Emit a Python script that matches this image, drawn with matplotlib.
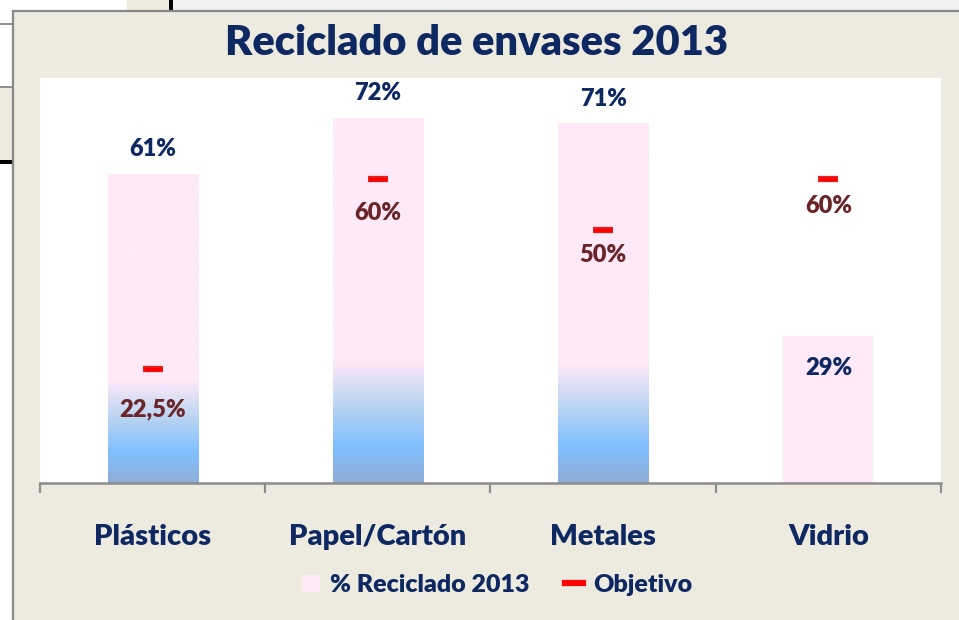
import matplotlib.pyplot as plt
import numpy as np
from matplotlib.colors import LinearSegmentedColormap
from matplotlib.patches import Rectangle, Patch
from matplotlib.lines import Line2D

categorias = ['Plásticos', 'Papel/Cartón', 'Metales', 'Vidrio']
reciclado = [61, 72, 71, 29]
objetivo = [22.5, 60, 50, 60]
con_degradado = [True, True, True, False]

NAVY = '#0E2862'
GRANATE = '#6A2529'
ROSA = '#FDE9F8'
BEIGE = '#EDEBE0'
PESO = 'heavy'
W, H = 959, 620

plt.rcParams['font.family'] = ['Lato', 'DejaVu Sans']
plt.rcParams['font.weight'] = 'bold'

fig = plt.figure(figsize=(W / 100, H / 100), dpi=100, facecolor='white')


def caja(x, y, w, h, **kw):
    # rectangulo en pixeles desde la esquina superior izquierda
    r = Rectangle((x / W, 1 - (y + h) / H), w / W, h / H,
                  transform=fig.transFigure, zorder=-5, **kw)
    fig.add_artist(r)
    return r


# restos de la captura alrededor del grafico
caja(173, 0, W - 173, 11, facecolor='#F0F2F2', edgecolor='none')
caja(127, 0, 42, 11, facecolor=BEIGE, edgecolor='none')
caja(169, 0, 4, 11, facecolor='black', edgecolor='none')
caja(0, 23, 13, 1.5, facecolor='#909090', edgecolor='none')
caja(0, 87, 13, 73, facecolor=BEIGE, edgecolor='none')
caja(0, 86, 13, 1.5, facecolor='#909090', edgecolor='none')
caja(0, 160, 13, 3.5, facecolor='black', edgecolor='none')
# panel del grafico
caja(13, 11, W - 13 + 5, H, facecolor=BEIGE, edgecolor='#888888', linewidth=1.6)

ax = fig.add_axes([40 / W, 1 - 483 / H, (941 - 40) / W, (483 - 78) / H])
ax.set_zorder(2)
ax.set_facecolor('white')
ax.set_xlim(-0.5, 3.5)
ax.set_ylim(0, 80)
for s in ['top', 'left', 'right']:
    ax.spines[s].set_visible(False)
ax.spines['bottom'].set_color('#8C8C8C')
ax.spines['bottom'].set_linewidth(1.8)
ax.set_yticks([])
ax.set_xticks(np.arange(-0.5, 4, 1))
ax.set_xticklabels([])
ax.tick_params(axis='x', direction='out', length=7.5, width=1.6, color='#8C8C8C')

ancho = 0.40
degradado = LinearSegmentedColormap.from_list('deg', [
    (0.0, '#90AED6'),
    (0.10, '#80BFFF'),
    (0.20, '#B4D2F2'),
    (0.33, ROSA),
    (1.0, ROSA)])
grad = np.linspace(0, 1, 256).reshape(-1, 1)

for i, v in enumerate(reciclado):
    x0 = i - ancho / 2
    if con_degradado[i]:
        ax.imshow(grad, cmap=degradado, origin='lower', aspect='auto',
                  extent=(x0, x0 + ancho, 0, v), zorder=2, interpolation='bilinear')
    else:
        ax.bar(i, v, width=ancho, color=ROSA, zorder=2)

ax.set_xlim(-0.5, 3.5)
ax.set_ylim(0, 80)

# etiquetas del reciclado
for i, v in enumerate(reciclado):
    dy = -23 if not con_degradado[i] else 18
    ax.annotate(f'{v}%', (i, v), xytext=(0, dy), textcoords='offset points',
                ha='center', va='center', fontsize=17, color=NAVY,
                fontweight=PESO, zorder=5)

# marcas del objetivo
ax.plot(range(4), objetivo, linestyle='none', marker='_', markersize=15,
        markeredgewidth=4.5, color='#E82020', zorder=4)
ax.plot(range(4), objetivo, linestyle='none', marker='_', markersize=13,
        markeredgewidth=2.5, color='#FF0000', zorder=4)
desfase_obj = [-29, -24, -18, -19]
for i, v in enumerate(objetivo):
    txt = f'{v:g}%'.replace('.', ',')
    ax.annotate(txt, (i, v), xytext=(0, desfase_obj[i]), textcoords='offset points',
                ha='center', va='center', fontsize=17, color=GRANATE,
                fontweight=PESO, zorder=5)

# categorias
for i, c in enumerate(categorias):
    ax.annotate(c, (i, 0), xycoords=('data', 'axes fraction'), xytext=(0, -39),
                textcoords='offset points', ha='center', va='center',
                fontsize=21, color=NAVY, fontweight=PESO)

fig.text(477 / W, 1 - 43 / H, 'Reciclado de envases 2013', ha='center', va='center',
         fontsize=30, color=NAVY, fontweight=PESO)

manejadores = [Patch(facecolor=ROSA, edgecolor='none'),
               Line2D([], [], color='#FF0000', linewidth=4.5)]
fig.legend(manejadores, ['% Reciclado 2013', 'Objetivo'], loc='center',
           bbox_to_anchor=(497 / W, 1 - 585 / H), ncol=2, frameon=False,
           prop={'size': 18, 'weight': PESO}, labelcolor=NAVY,
           handlelength=0.7, handleheight=0.7, handletextpad=0.4, columnspacing=1.45)

fig.savefig('out.png', dpi=100, facecolor=fig.get_facecolor())
